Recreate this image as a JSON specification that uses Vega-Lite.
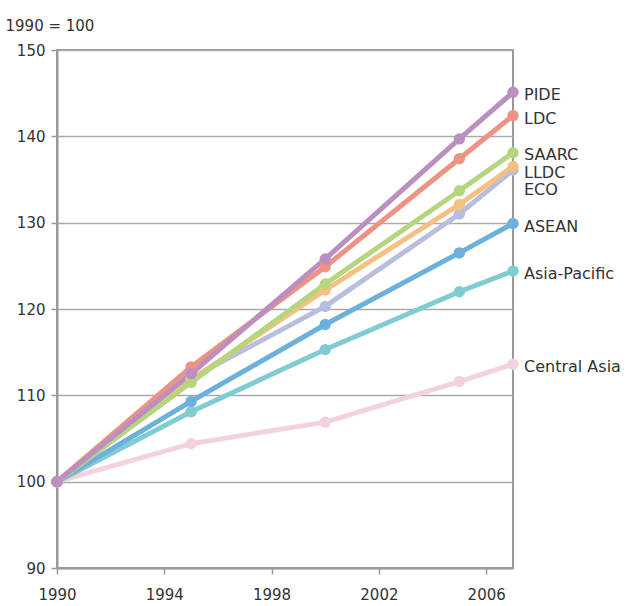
{
  "$schema": "https://vega.github.io/schema/vega-lite/v6.json",
  "width": 456,
  "height": 518,
  "autosize": "none",
  "padding": {"left": 57, "top": 50, "right": 119, "bottom": 38},
  "config": {
    "font": "DejaVu Sans",
    "view": {"stroke": "#999", "strokeWidth": 2},
    "axis": {"labelFont": "DejaVu Sans", "labelFontSize": 15, "labelColor": "#333", "titleFont": "DejaVu Sans"}
  },
  "data": {
    "values": [
      {"region": "Central Asia", "year": 1990, "value": 100},
      {"region": "Central Asia", "year": 1995, "value": 104.4},
      {"region": "Central Asia", "year": 2000, "value": 106.9},
      {"region": "Central Asia", "year": 2005, "value": 111.6},
      {"region": "Central Asia", "year": 2007, "value": 113.6},
      {"region": "Asia-Pacific", "year": 1990, "value": 100},
      {"region": "Asia-Pacific", "year": 1995, "value": 108.1},
      {"region": "Asia-Pacific", "year": 2000, "value": 115.3},
      {"region": "Asia-Pacific", "year": 2005, "value": 122.0},
      {"region": "Asia-Pacific", "year": 2007, "value": 124.4},
      {"region": "ASEAN", "year": 1990, "value": 100},
      {"region": "ASEAN", "year": 1995, "value": 109.3},
      {"region": "ASEAN", "year": 2000, "value": 118.2},
      {"region": "ASEAN", "year": 2005, "value": 126.5},
      {"region": "ASEAN", "year": 2007, "value": 129.9},
      {"region": "ECO", "year": 1990, "value": 100},
      {"region": "ECO", "year": 1995, "value": 112.0},
      {"region": "ECO", "year": 2000, "value": 120.3},
      {"region": "ECO", "year": 2005, "value": 131.0},
      {"region": "ECO", "year": 2007, "value": 136.1},
      {"region": "LLDC", "year": 1990, "value": 100},
      {"region": "LLDC", "year": 1995, "value": 111.8},
      {"region": "LLDC", "year": 2000, "value": 122.2},
      {"region": "LLDC", "year": 2005, "value": 132.1},
      {"region": "LLDC", "year": 2007, "value": 136.5},
      {"region": "SAARC", "year": 1990, "value": 100},
      {"region": "SAARC", "year": 1995, "value": 111.5},
      {"region": "SAARC", "year": 2000, "value": 122.9},
      {"region": "SAARC", "year": 2005, "value": 133.7},
      {"region": "SAARC", "year": 2007, "value": 138.1},
      {"region": "LDC", "year": 1990, "value": 100},
      {"region": "LDC", "year": 1995, "value": 113.3},
      {"region": "LDC", "year": 2000, "value": 124.9},
      {"region": "LDC", "year": 2005, "value": 137.4},
      {"region": "LDC", "year": 2007, "value": 142.4},
      {"region": "PIDE", "year": 1990, "value": 100},
      {"region": "PIDE", "year": 1995, "value": 112.5},
      {"region": "PIDE", "year": 2000, "value": 125.8},
      {"region": "PIDE", "year": 2005, "value": 139.7},
      {"region": "PIDE", "year": 2007, "value": 145.1}
    ]
  },
  "encoding": {
    "x": {
      "field": "year", "type": "quantitative",
      "scale": {"domain": [1990, 2007], "nice": false, "zero": false},
      "axis": {"values": [1990, 1994, 1998, 2002, 2006], "format": "d", "title": null, "grid": false, "labelFlush": false,
               "domainColor": "#999", "domainWidth": 2, "tickColor": "#999", "tickWidth": 1.5, "tickSize": 6, "labelPadding": 13}
    },
    "y": {
      "field": "value", "type": "quantitative",
      "scale": {"domain": [90, 150], "nice": false, "zero": false},
      "axis": {"values": [90, 100, 110, 120, 130, 140, 150], "title": "1990 = 100", "titleAngle": 0, "labelFlush": false,
               "titleAlign": "left", "titleBaseline": "alphabetic", "titleX": -52, "titleY": -20,
               "titleFontSize": 15, "titleFontWeight": "normal", "titleColor": "#333",
               "gridColor": "#aaa", "gridWidth": 1.5, "domainColor": "#999", "domainWidth": 2,
               "tickColor": "#999", "tickWidth": 1.5, "tickSize": 6, "labelPadding": 6}
    },
    "color": {
      "field": "region", "type": "nominal", "legend": null,
      "sort": ["Central Asia", "Asia-Pacific", "ASEAN", "ECO", "LLDC", "SAARC", "LDC", "PIDE"],
      "scale": {
        "domain": ["Central Asia", "Asia-Pacific", "ASEAN", "ECO", "LLDC", "SAARC", "LDC", "PIDE"],
        "range": ["#f2d2df", "#80ccd3", "#6cb1dd", "#b8bedd", "#f7c083", "#b5d67f", "#ee9383", "#bb8fc0"]
      }
    }
  },
  "layer": [
    {"mark": {"type": "line", "strokeWidth": 5}},
    {"mark": {"type": "point", "filled": true, "size": 130, "opacity": 1}},
    {
      "transform": [{"filter": "datum.year == 2007 && datum.region != 'LLDC' && datum.region != 'ECO' && datum.region != 'SAARC'"}],
      "mark": {"type": "text", "align": "left", "dx": 11, "dy": 3, "fontSize": 16, "color": "#333", "font": "DejaVu Sans"},
      "encoding": {"text": {"field": "region"}, "color": {"value": "#333"}}
    },
    {
      "transform": [{"filter": "datum.year == 2007 && datum.region == 'SAARC'"}],
      "mark": {"type": "text", "align": "left", "dx": 11, "dy": 2, "fontSize": 16, "color": "#333", "font": "DejaVu Sans"},
      "encoding": {"text": {"field": "region"}, "color": {"value": "#333"}}
    },
    {
      "transform": [{"filter": "datum.year == 2007 && datum.region == 'LLDC'"}],
      "mark": {"type": "text", "align": "left", "dx": 11, "dy": 6, "fontSize": 16, "color": "#333", "font": "DejaVu Sans"},
      "encoding": {"text": {"field": "region"}, "color": {"value": "#333"}}
    },
    {
      "transform": [{"filter": "datum.year == 2007 && datum.region == 'ECO'"}],
      "mark": {"type": "text", "align": "left", "dx": 11, "dy": 20, "fontSize": 16, "color": "#333", "font": "DejaVu Sans"},
      "encoding": {"text": {"field": "region"}, "color": {"value": "#333"}}
    }
  ]
}
